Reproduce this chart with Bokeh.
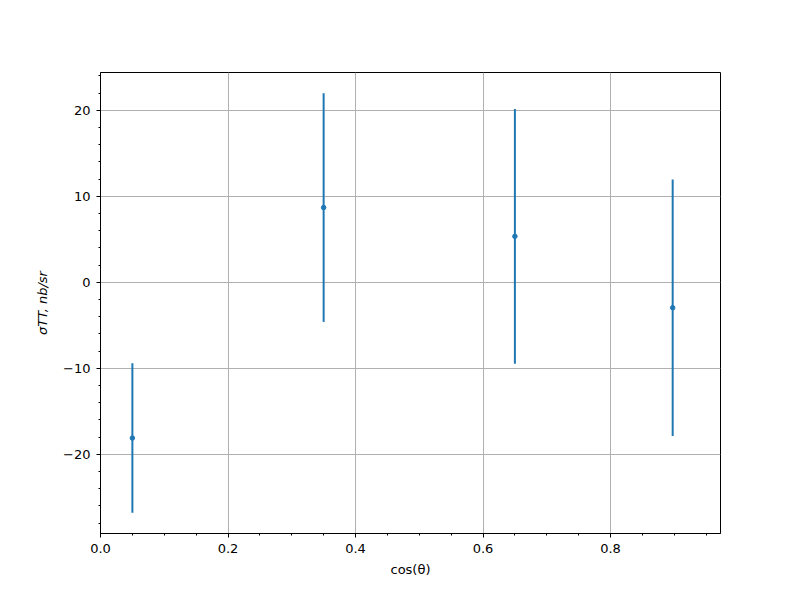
from bokeh.plotting import figure
from bokeh.models import Range1d, SingleIntervalTicker, CustomJSTickFormatter
from bokeh.embed import file_html
from bokeh.resources import INLINE

cos_theta = [0.05, 0.35, 0.65, 0.8975]
sigma_tt = [-18.1, 8.7, 5.35, -2.95]
sigma_err = [8.7, 13.3, 14.8, 14.9]

lower = [v - e for v, e in zip(sigma_tt, sigma_err)]
upper = [v + e for v, e in zip(sigma_tt, sigma_err)]

C = "#1f77b4"
FONT = "DejaVu Sans"

p = figure(width=792, height=592, frame_width=620, frame_height=461,
           min_border_left=100, min_border_right=72, min_border_top=72, min_border_bottom=59,
           output_backend="svg", toolbar_location=None,
           x_range=Range1d(0, 0.9725), y_range=Range1d(-29.2, 24.4))

p.segment(x0=cos_theta, y0=lower, x1=cos_theta, y1=upper, line_color=C, line_width=2)
p.scatter(x=cos_theta, y=sigma_tt, size=4.5, color=C)

p.xaxis.ticker = SingleIntervalTicker(interval=0.2, num_minor_ticks=4)
p.yaxis.ticker = SingleIntervalTicker(interval=10, num_minor_ticks=5)
p.xaxis.formatter = CustomJSTickFormatter(code="return tick.toFixed(1);")
p.yaxis.formatter = CustomJSTickFormatter(code="return tick.toFixed(0).replace('-', '\u2212');")

for ax in (p.xaxis[0], p.yaxis[0]):
    ax.major_tick_out = 4
    ax.major_tick_in = 0
    ax.minor_tick_out = 2
    ax.minor_tick_in = 0
    ax.axis_line_color = "black"
    ax.major_tick_line_color = "black"
    ax.minor_tick_line_color = "black"
    ax.major_label_text_font = FONT
    ax.major_label_text_font_size = "13px"
    ax.major_label_text_color = "black"
    ax.axis_label_text_font = FONT
    ax.axis_label_text_font_size = "13px"
    ax.axis_label_text_color = "black"
    ax.axis_label_text_font_style = "normal"

p.xaxis.axis_label = "cos(θ)"
p.yaxis.axis_label = "σTT, nb/sr"
p.yaxis.axis_label_text_font_style = "italic"
p.xaxis.major_label_standoff = 6
p.yaxis.major_label_standoff = 6
p.xaxis.axis_label_standoff = 6
p.yaxis.axis_label_standoff = 10

p.grid.grid_line_color = "#b0b0b0"
p.grid.grid_line_width = 1
p.outline_line_color = "black"
p.outline_line_width = 1
p.background_fill_color = "white"
p.border_fill_color = "white"

open("out.html", "w").write(file_html(p, INLINE))
